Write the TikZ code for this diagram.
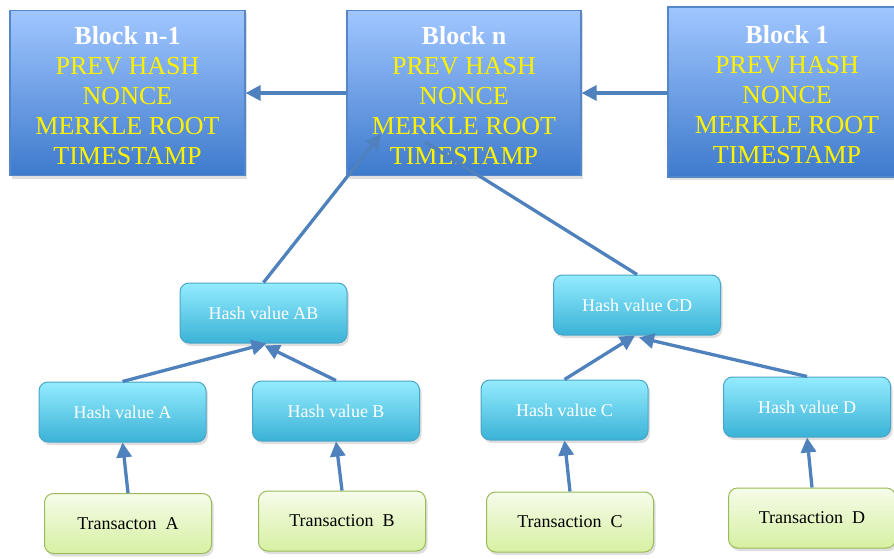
\documentclass[tikz,border=0pt]{standalone}
\usepackage{fontspec}
\setmainfont{Liberation Serif}
\usetikzlibrary{arrows.meta,shadows}

\definecolor{linkblue}{RGB}{79,129,189}
\definecolor{blocktop}{RGB}{160,198,255}
\definecolor{blockbot}{RGB}{62,122,204}
\definecolor{blockedge}{RGB}{84,134,200}
\definecolor{hashtop}{RGB}{148,236,255}
\definecolor{hashbot}{RGB}{58,178,214}
\definecolor{hashedge}{RGB}{75,165,200}
\definecolor{txtop}{RGB}{246,252,234}
\definecolor{txbot}{RGB}{214,240,162}
\definecolor{txedge}{RGB}{155,187,89}

% first line of a block, with a strut that lowers the whole text a little
\newcommand{\blocktitle}[1]{\rule{0pt}{24pt}\textcolor{white}{\bfseries #1}}

\tikzset{
  blockbox/.style={draw=blockedge, line width=1.2pt, top color=blocktop, bottom color=blockbot,
    minimum height=165pt, align=center, text=yellow, inner sep=0pt,
    font=\fontsize{26}{30}\selectfont,
    drop shadow={shadow xshift=2pt, shadow yshift=-3pt, opacity=0.25}},
  hashbox/.style={draw=hashedge, line width=1pt, top color=hashtop, bottom color=hashbot,
    rounded corners=9pt, minimum width=167pt, minimum height=60pt, text=white,
    font=\fontsize{18}{20}\selectfont,
    drop shadow={shadow xshift=2pt, shadow yshift=-3pt, opacity=0.25}},
  txbox/.style={draw=txedge, line width=1pt, top color=txtop, bottom color=txbot,
    rounded corners=9pt, minimum width=167pt, minimum height=60pt, text=black,
    font=\fontsize{18}{20}\selectfont,
    drop shadow={shadow xshift=2pt, shadow yshift=-3pt, opacity=0.25}},
  link/.style={draw=linkblue, line width=3.3pt, -{Triangle[length=15pt,width=15pt]}},
  plainlink/.style={draw=linkblue, line width=3.3pt}
}

\begin{document}
\begin{tikzpicture}[x=1pt,y=-1pt]
  \useasboundingbox[fill=white] (0,0) rectangle (894,559);

  % chain of blocks
  \node[blockbox, minimum width=235pt] (bprev) at (127.5,93)
    {\blocktitle{Block n-1}\\PREV HASH\\NONCE\\MERKLE ROOT\\TIMESTAMP};
  \node[blockbox, minimum width=234pt] (bn) at (464,93)
    {\blocktitle{Block n}\\PREV HASH\\NONCE\\MERKLE ROOT\\TIMESTAMP};
  \node[blockbox, minimum width=238pt, minimum height=170pt] (bfirst) at (787,92)
    {\blocktitle{Block 1}\\PREV HASH\\NONCE\\MERKLE ROOT\\TIMESTAMP};

  % merkle tree: inner hashes
  \node[hashbox] (hab) at (263.5,313) {Hash value AB};
  \node[hashbox] (hcd) at (637,305) {Hash value CD};

  % leaf hashes
  \node[hashbox] (ha) at (122.5,412) {Hash value A};
  \node[hashbox] (hb) at (336,411) {Hash value B};
  \node[hashbox] (hc) at (564.5,410) {Hash value C};
  \node[hashbox] (hd) at (807,407) {Hash value D};

  % transactions
  \node[txbox] (ta) at (128,523.5) {Transacton\ \ A};
  \node[txbox] (tb) at (342,521) {Transaction\ \ B};
  \node[txbox] (tc) at (570,522) {Transaction\ \ C};
  \node[txbox] (td) at (812,518) {Transaction\ \ D};

  % links between blocks
  \draw[link] (bn.west |- 0,93) -- (bprev.east |- 0,93);
  \draw[link] (bfirst.west |- 0,93) -- (bn.east |- 0,93);

  % roots into block n
  \coordinate (abend) at (381,134);
  \coordinate (cdend) at (425,142);
  \draw[link] (hab.north) -- (abend);
  \draw[plainlink] (hcd.north) -- (cdend);

  % tree edges
  \draw[link] (ha.north) -- ([xshift=3pt]hab.south);
  \draw[link] (hb.north) -- ([xshift=1pt,yshift=-2pt]hab.south);
  \draw[link] (hc.north) -- ([xshift=-2pt]hcd.south);
  \draw[link] (hd.north) -- ([xshift=2pt,yshift=-2pt]hcd.south);

  \draw[link] (ta.north) -- (ha.south);
  \draw[link] (tb.north) -- (hb.south);
  \draw[link] (tc.north) -- (hc.south);
  \draw[link] (td.north) -- (hd.south);
\end{tikzpicture}
\end{document}
